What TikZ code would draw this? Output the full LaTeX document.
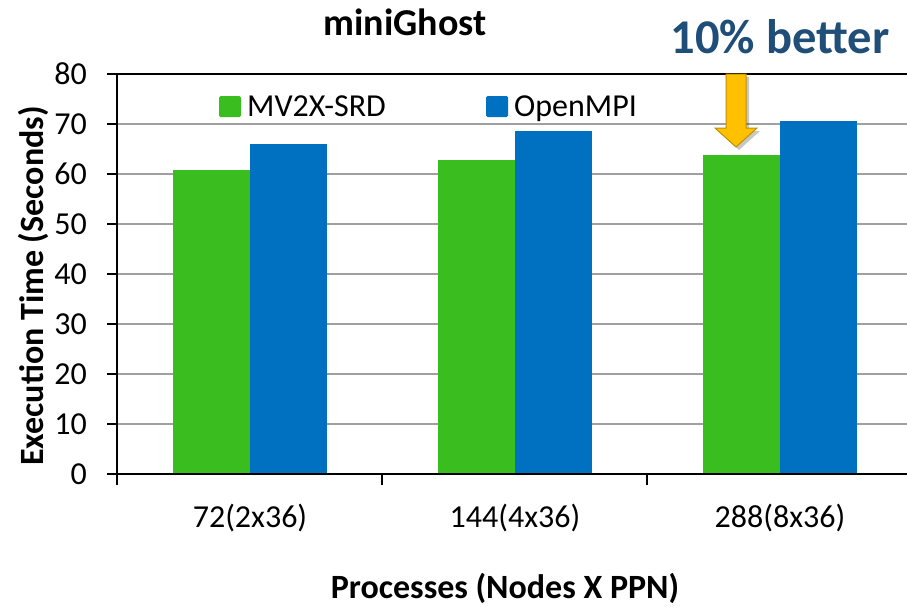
\documentclass[tikz,border=0pt]{standalone}
\usepackage{fontspec}
\setmainfont{Carlito}
\definecolor{mvgreen}{RGB}{58,190,31}
\definecolor{ompiblue}{RGB}{0,112,192}
\definecolor{gridgray}{RGB}{160,160,160}
\definecolor{notecolor}{RGB}{31,78,121}
\definecolor{arrowfill}{RGB}{255,192,0}
\definecolor{arrowedge}{RGB}{191,144,0}
\tikzset{
  gridline/.style={draw=gridgray, line width=1.2pt},
  axisline/.style={draw=black, line width=1.6pt},
  greenbar/.style={fill=mvgreen},
  bluebar/.style={fill=ompiblue},
  ticklabel/.style={inner sep=0pt, font=\fontsize{32}{38}\selectfont},
  axistitle/.style={inner sep=0pt, font=\bfseries\fontsize{34}{40}\selectfont},
}
\begin{document}
\begin{tikzpicture}[x=1pt,y=-1pt]
\useasboundingbox (0,0) rectangle (907,606);
\fill[white] (0,0) rectangle (907,606);
% gridlines
\foreach \y in {124,174,224,274,324,374,424}
  \draw[gridline] (107,\y) -- (907,\y);
% top frame
\draw[axisline] (107,74) -- (907,74);
% bars
\foreach \c/\g/\b in {250/60.8/66.1, 515/62.9/68.6, 780/63.8/70.7}{
  \fill[greenbar] (\c-77,474) rectangle (\c,474-5*\g);
  \fill[bluebar] (\c,474) rectangle (\c+77,474-5*\b);
}
% axes
\draw[axisline] (117,74) -- (117,485);
\draw[axisline] (107,474) -- (907,474);
\foreach \y in {74,124,174,224,274,324,374,424,474}
  \draw[axisline] (107,\y) -- (117,\y);
\foreach \x in {382,647}
  \draw[axisline] (\x,474) -- (\x,485);
% y tick labels
\foreach \v/\y in {0/474,10/424,20/374,30/324,40/274,50/224,60/174,70/124,80/74}
  \node[ticklabel, anchor=east] (yl\v) at (87,\y) {\v};
% x tick labels
\node[ticklabel, anchor=base] (xl1) at (250,527) {72(2x36)};
\node[ticklabel, anchor=base] (xl2) at (515,527) {144(4x36)};
\node[ticklabel, anchor=base] (xl3) at (780,527) {288(8x36)};
% legend
\fill[mvgreen, rounded corners=1.5pt] (219,96) rectangle (241,117);
\node[ticklabel, anchor=base west] (leg1) at (247,116) {MV2X-SRD};
\fill[ompiblue, rounded corners=1.5pt] (486,96) rectangle (508,117);
\node[ticklabel, anchor=base west] (leg2) at (514,116) {OpenMPI};
% titles
\node[inner sep=0pt, anchor=base, font=\bfseries\fontsize{38}{44}\selectfont] (title) at (405,35) {miniGhost};
\node[axistitle, anchor=base] (xtitle) at (505,598) {Processes (Nodes X PPN)};
\node[axistitle, anchor=base, rotate=90] (ytitle) at (43,286) {Execution Time (Seconds)};
% annotation
\node[inner sep=0pt, anchor=base, text=notecolor, font=\bfseries\fontsize{48.5}{56}\selectfont] (note) at (780,53) {10\% better};
\fill[black, opacity=0.22] (729,77) -- (749,77) -- (749,131) -- (760,131) -- (739,150) -- (718,131) -- (729,131) -- cycle;
\filldraw[fill=arrowfill, draw=arrowedge, line width=1pt] (726,74) -- (746,74) -- (746,128) -- (757,128) -- (736,147) -- (715,128) -- (726,128) -- cycle;
\end{tikzpicture}
\end{document}
